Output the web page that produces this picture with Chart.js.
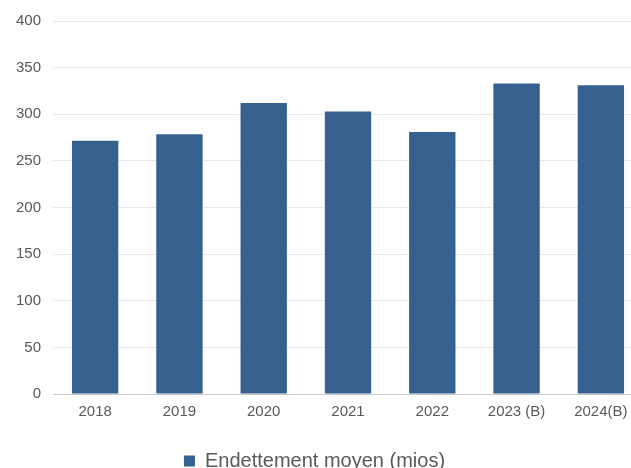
<!DOCTYPE html>
<html>
<head>
<meta charset="utf-8">
<script src="https://cdn.jsdelivr.net/npm/chart.js@4"></script>
<style>
  html, body { margin: 0; padding: 0; background: #fff; }
  #wrap { width: 631px; height: 468px; overflow: hidden; position: relative; }
  canvas { display: block; }
</style>
</head>
<body>
<div id="wrap"><canvas id="chart" width="645" height="468"></canvas></div>
<script>
var years = ['2018', '2019', '2020', '2021', '2022', '2023 (B)', '2024(B)'];
var endettement = [271.5, 278.5, 312, 303, 281, 333, 331];
var seriesName = 'Endettement moyen (mios)';
var yMin = 0, yMax = 400, yStep = 50;

var fontFamily = "'Liberation Sans', Arial, sans-serif";

// nudge the legend to where the original sits
var legendShift = {
    id: 'legendShift',
    afterLayout: function (chart) {
        var lg = chart.legend;
        lg.left -= 7; lg.right -= 7;
        lg.top += 17; lg.bottom += 17;
    }
};

var ctx = document.getElementById('chart');
const myChart = new Chart(ctx, {
    type: 'bar',
    data: {
        labels: years,
        datasets: [
            {
                label: seriesName,
                data: endettement,
                backgroundColor: '#36618f',
                borderWidth: 0,
                barPercentage: 0.55,
                categoryPercentage: 1
            }
        ]
    },
    options: {
        responsive: false,
        animation: false,
        layout: { padding: { top: 21, right: 2, bottom: 4, left: 0 } },
        plugins: {
            legend: {
                position: 'bottom',
                labels: {
                    boxWidth: 11,
                    boxHeight: 11,
                    padding: 4,
                    color: '#595959',
                    font: { family: fontFamily, size: 20 }
                }
            },
            tooltip: { enabled: false }
        },
        scales: {
            x: {
                grid: { display: false, drawTicks: false },
                border: { color: '#c8c8c8', width: 1 },
                ticks: {
                    color: '#595959',
                    padding: 9,
                    maxRotation: 0,
                    font: { family: fontFamily, size: 15 }
                }
            },
            y: {
                min: yMin,
                max: yMax,
                afterFit: function (s) { s.width = 53; },
                grid: { color: '#e9e9e9', lineWidth: 1, drawTicks: false },
                border: { display: false },
                ticks: {
                    stepSize: yStep,
                    color: '#595959',
                    padding: 12,
                    font: { family: fontFamily, size: 15 }
                }
            }
        }
    },
    plugins: [legendShift]
});
</script>
</body>
</html>
